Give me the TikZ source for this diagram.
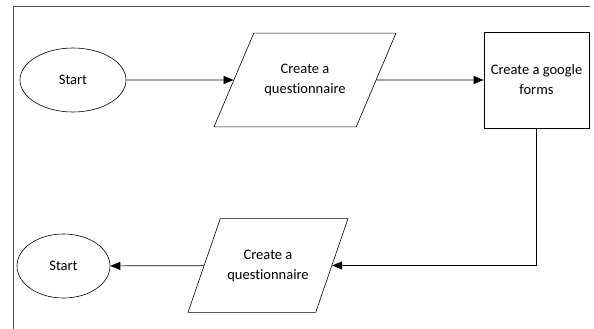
\documentclass[tikz,border=0pt]{standalone}
\usepackage{fontspec}
\setmainfont[Ligatures=NoCommon]{Carlito}
\usetikzlibrary{shapes.geometric,arrows.meta}

\begin{document}
\begin{tikzpicture}[x=1pt,y=-1pt]

        \tikzstyle{every node}=[draw,align=center,font=\fontsize{14.5}{20}\selectfont,line width=0.6pt]
        \tikzstyle{terminal}=[ellipse,minimum height=64pt]
        \tikzstyle{iobox}=[trapezium,trapezium stretches body,inner ysep=31pt]
        \tikzstyle{flow}=[-{Triangle[length=10pt,width=8pt]},line width=0.7pt]

        \useasboundingbox (0,0) rectangle (594,329);
        \draw[line width=1pt,black!70] (13,329) -- (13,7) -- (590,7);

        \node[terminal,minimum width=106pt] (start_1) at (73,80) {Start};
        \node[iobox,trapezium left angle=67,trapezium right angle=113,minimum width=182pt] (quest_1) at (305,80) {Create a\\questionnaire};
        \node[minimum width=105pt,minimum height=96pt] (forms) at (536.5,80) {Create a google\\forms};
        \node[iobox,trapezium left angle=71,trapezium right angle=109,minimum width=160pt] (quest_2) at (268,265.5) {Create a\\questionnaire};
        \node[terminal,minimum width=93pt] (start_2) at (63.5,266) {Start};

        \draw[flow] (start_1) -- (quest_1);
        \draw[flow] (quest_1) -- (forms);
        \draw[flow] (forms.south) |- (quest_2);
        \draw[flow] (quest_2) -- (start_2);

\end{tikzpicture}
\end{document}
